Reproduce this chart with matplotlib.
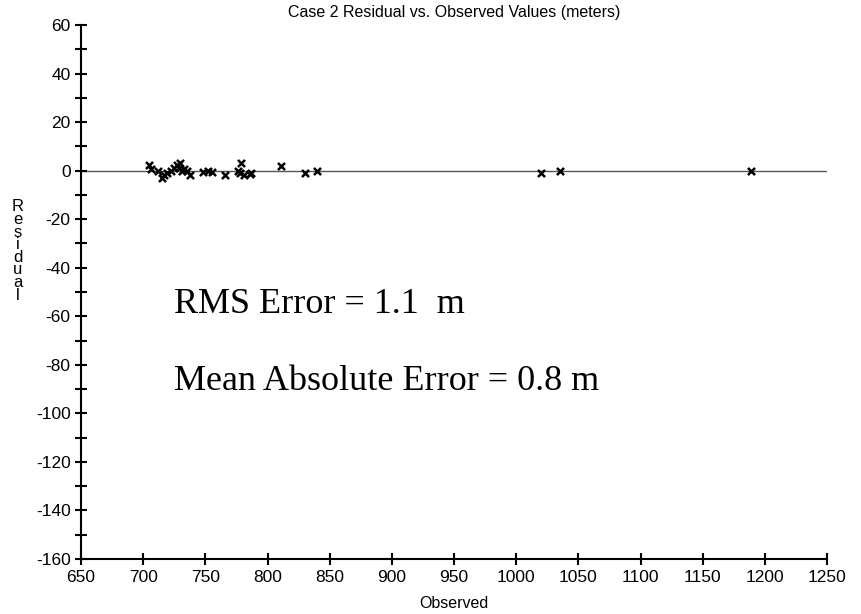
import matplotlib
matplotlib.use("Agg")
import matplotlib.pyplot as plt
from matplotlib.ticker import MultipleLocator

observed = [705, 706, 712, 715, 717, 719, 722, 725, 727, 729, 730, 731, 733, 735,
            738, 748, 752, 755, 766, 776, 778, 779, 781, 786, 787, 811, 830, 840,
            1020, 1035, 1189]
residual = [2.5, 0.5, 0, -3, -2, -1, 0, 1, 2.5, 1, 3, 0, 0.5, 0,
            -2, -0.5, 0, -0.5, -2, 0, -1, 3, -2, -1.5, -1, 2, -1, 0,
            -1, 0, 0]
xticks = list(range(650, 1251, 50))
yticks = list(range(-160, 61, 20))

plt.rcParams['font.family'] = ['Liberation Sans', 'DejaVu Sans']
plt.rcParams['axes.unicode_minus'] = False
fig = plt.figure(figsize=(8.61, 6.14), dpi=100)
ax = fig.add_axes([81/861, 1-559/614, (827-81)/861, (559-25)/614])
ax.axhline(0, color='#555555', lw=1.0, zorder=1)
ax.scatter(observed, residual, marker='x', s=26, color='black', linewidths=1.8, zorder=3)
ax.set_xlim(650, 1250)
ax.set_ylim(-160, 60)
ax.set_xticks(xticks)
ax.set_yticks(yticks)
ax.yaxis.set_minor_locator(MultipleLocator(10))
for s in ['top', 'right']:
    ax.spines[s].set_visible(False)
for s in ['left', 'bottom']:
    ax.spines[s].set_linewidth(1.5)
ax.tick_params(axis='both', which='major', direction='inout', length=8, width=1.5, labelsize=12.5)
ax.tick_params(axis='y', which='minor', direction='inout', length=8, width=1.5)
ax.tick_params(axis='x', pad=4)
ax.set_title('Case 2 Residual vs. Observed Values (meters)', fontsize=11.5, pad=6)
ax.set_xlabel('Observed', fontsize=11.5, labelpad=8)
fig.text(18/861, 1-251/614, '\n'.join('Residual'), fontsize=12, ha='center', va='center', linespacing=0.8)
ax.text(725, -55, 'RMS Error = 1.1  m', fontsize=26, family='Liberation Serif', va='center')
ax.text(725, -87, 'Mean Absolute Error = 0.8 m', fontsize=26, family='Liberation Serif', va='center')
fig.savefig('out.png', dpi=100)
